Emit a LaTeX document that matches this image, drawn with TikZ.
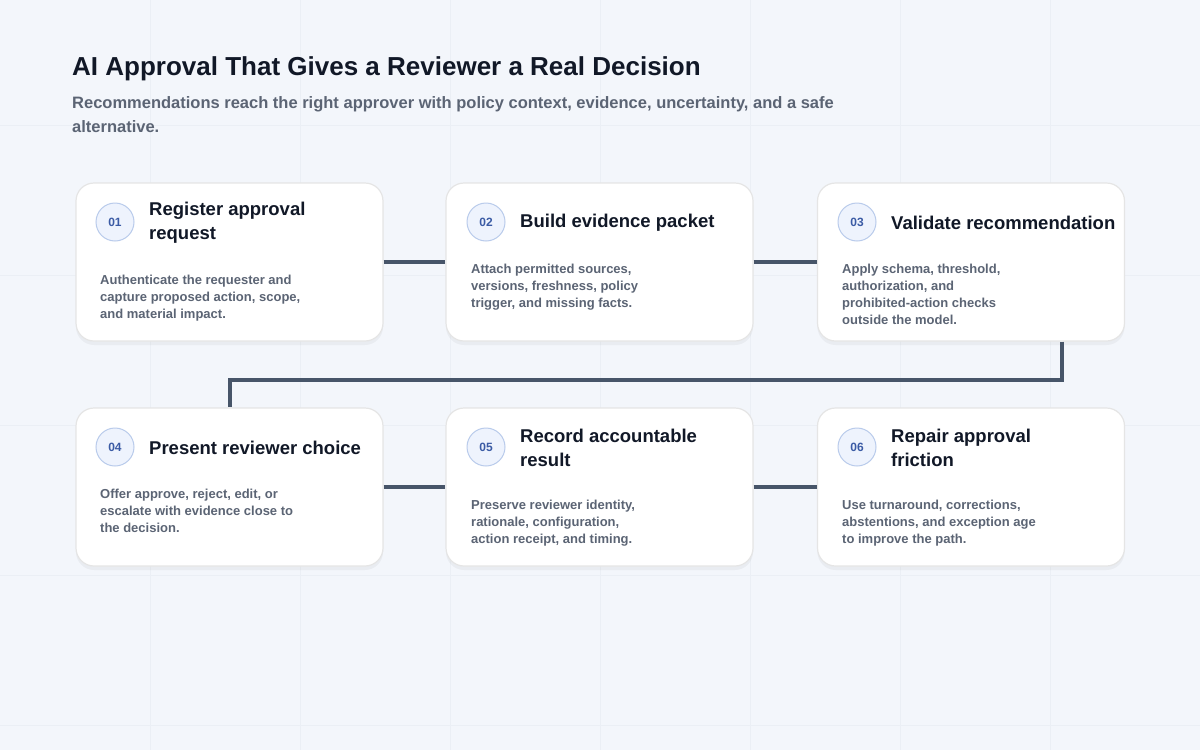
\documentclass[tikz,border=0pt]{standalone}
\usepackage{fontspec}
\setmainfont{Liberation Sans}
\usetikzlibrary{calc, positioning, shadows}
\definecolor{bgc}{HTML}{F3F6FB}
\definecolor{gridc}{HTML}{EBEFF5}
\definecolor{inkc}{HTML}{111827}
\definecolor{mutec}{HTML}{5B6474}
\definecolor{linec}{HTML}{475569}
\definecolor{badgef}{HTML}{EEF3FD}
\definecolor{badged}{HTML}{B9CBEB}
\definecolor{badget}{HTML}{3B5BA5}
\tikzset{
  card/.style={draw=gray!20, fill=white, rounded corners=18pt, minimum width=307pt, minimum height=158pt, line width=1.2pt,
    drop shadow={opacity=0.08, shadow xshift=0pt, shadow yshift=-4pt}},
  badge/.style={circle, draw=badged, fill=badgef, line width=1pt, minimum size=38pt, inner sep=0pt,
    text=badget, font=\fontsize{12}{14}\selectfont\bfseries},
  head/.style={anchor=west, align=left, text=inkc, font=\fontsize{18.5}{24}\selectfont\bfseries, inner sep=0pt},
  body/.style={anchor=north west, align=left, text=mutec, font=\fontsize{13}{17}\selectfont\bfseries, inner sep=0pt},
  link/.style={draw=linec, line width=4pt}
}
\begin{document}
\begin{tikzpicture}[x=1pt, y=-1pt]
\fill[bgc] (0,0) rectangle (1200,750);
\useasboundingbox (0,0) rectangle (1200,750);
\foreach \gx in {150,300,...,1050} \draw[gridc, line width=0.8pt] (\gx,0) -- (\gx,750);
\foreach \gy in {125,275,...,725} \draw[gridc, line width=0.8pt] (0,\gy) -- (1200,\gy);

\node[anchor=west, text=inkc, font=\fontsize{26}{30}\selectfont\bfseries, inner sep=0pt] (title) at (72,69) {AI Approval That Gives a Reviewer a Real Decision};
\node[anchor=north west, align=left, text=mutec, font=\fontsize{16.5}{24}\selectfont\bfseries, inner sep=0pt] (sub) at (72,96)
  {Recommendations reach the right approver with policy context, evidence, uncertainty, and a safe\\alternative.};

% cards
\node[card] (c1) at (229.5,262) {};
\node[card] (c2) at (599.5,262) {};
\node[card] (c3) at (971,262) {};
\node[card] (c4) at (229.5,487) {};
\node[card] (c5) at (599.5,487) {};
\node[card] (c6) at (971,487) {};

% connectors
\draw[link] (c1.east) -- (c2.west);
\draw[link] (c2.east) -- (c3.west);
\draw[link] ([xshift=91pt]c3.south) -- ++(0,38) -| (c4.north);
\draw[link] (c4.east) -- (c5.west);
\draw[link] (c5.east) -- (c6.west);

% badges and texts
\node[badge] (b1) at (115,222) {01};
\node[head] (h1) at (149,223) {Register approval\\request};
\node[body] (t1) at (100,275) {Authenticate the requester and\\capture proposed action, scope,\\and material impact.};

\node[badge] (b2) at (486,222) {02};
\node[head] (h2) at (520,223) {Build evidence packet};
\node[body] (t2) at (471,264) {Attach permitted sources,\\versions, freshness, policy\\trigger, and missing facts.};

\node[badge] (b3) at (857,222) {03};
\node[head] (h3) at (891,223) {Validate recommendation};
\node[body] (t3) at (842,264) {Apply schema, threshold,\\authorization, and\\prohibited-action checks\\outside the model.};

\node[badge] (b4) at (115,447) {04};
\node[head] (h4) at (149,448) {Present reviewer choice};
\node[body] (t4) at (100,489) {Offer approve, reject, edit, or\\escalate with evidence close to\\the decision.};

\node[badge] (b5) at (486,447) {05};
\node[head] (h5) at (520,448) {Record accountable\\result};
\node[body] (t5) at (471,500) {Preserve reviewer identity,\\rationale, configuration,\\action receipt, and timing.};

\node[badge] (b6) at (857,447) {06};
\node[head] (h6) at (891,448) {Repair approval\\friction};
\node[body] (t6) at (842,500) {Use turnaround, corrections,\\abstentions, and exception age\\to improve the path.};
\end{tikzpicture}
\end{document}
